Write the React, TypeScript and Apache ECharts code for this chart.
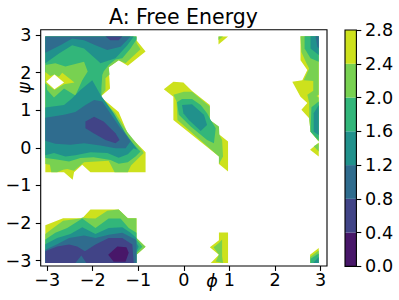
import React, { useEffect, useRef } from "react";
import * as echarts from "echarts";

type Pt = [number, number];

const levels = [0, 0.4, 0.8, 1.2, 1.6, 2.0, 2.4, 2.8];
const bandColors = ["#481769", "#414487", "#2f6c8e", "#21918c", "#32b67a", "#78d151", "#cde11d"];
const xTicks = [-3, -2, -1, 0, 1, 2, 3];
const yTicks = [-3, -2, -1, 0, 1, 2, 3];

// Contour regions of free energy below 2.8, in (phi, psi)
const below28: Pt[][] = [
  [[-3.04,2.96],[-1.04,2.96],[-1.04,2.86],[-.84,2.56],[-1.23,2.18],[-1.43,2.33],[-1.65,2.14],[-1.62,1.58],[-1.83,1.36],[-1.43,.95],[-1.22,.35],[-.84,-.12],[-.84,-.65],[-2.05,-.65],[-2.23,-.45],[-2.41,-.65],[-2.44,-.85],[-2.63,-.65],[-3.04,-.65]],
  [[-3.04,-2.06],[-2.65,-1.87],[-2.23,-1.87],[-2.05,-1.64],[-1.43,-1.64],[-1.23,-1.87],[-1.04,-1.87],[-1.04,-2.40],[-.84,-2.63],[-1.04,-2.84],[-1.04,-3.06],[-3.04,-3.06]],
  [[.76,2.96],[.97,2.96],[.76,2.75]],
  [[-.44,1.56],[-.23,1.76],[-.01,1.74],[.18,1.51],[.57,1.14],[.57,.74],[.75,.57],[.77,.36],[.97,.17],[.97,-.63],[.77,-.43],[.77,-.23],[-.23,.74],[-.23,1.36]],
  [[.77,-2.25],[.97,-2.25],[.97,-3.06],[.59,-3.06],[.77,-2.84],[.57,-2.64],[.77,-2.46]],
  [[2.77,-2.84],[2.96,-2.66],[2.96,-3.06],[2.77,-3.06]],
  [[2.56,2.97],[2.96,2.97],[2.96,.17],[2.78,.43],[2.75,.79],[2.58,1.01],[2.71,1.19],[2.56,1.36],[2.38,1.76],[2.6,1.8],[2.71,2.07],[2.56,2.33]],
  [[2.77,-.05],[2.96,.14],[2.96,-.23]],
];
const below24: Pt[][] = [
  [[-3.04,2.96],[-1.04,2.96],[-1.04,2.79],[-.95,2.62],[-1.28,2.25],[-1.43,2.33],[-1.65,2.14],[-1.63,1.95],[-1.72,1.85],[-1.72,1.54],[-1.83,1.36],[-1.50,.92],[-1.24,.42],[-.91,-.08],[-.88,-.14],[-1.16,-.47],[-1.23,-.65],[-1.52,-.65],[-1.65,-.34],[-2.19,-.38],[-2.41,-.61],[-2.56,-.56],[-2.65,-.58],[-2.78,-.65],[-2.91,-.65],[-2.94,-.45],[-3.04,-.43]],
  [[-3.04,-2.29],[-2.89,-2.15],[-2.65,-1.94],[-2.27,-1.88],[-2.23,-1.85],[-2.12,-1.87],[-1.94,-1.88],[-1.68,-1.67],[-1.43,-1.64],[-1.23,-1.87],[-1.04,-1.87],[-1.04,-2.40],[-.84,-2.63],[-1.04,-2.84],[-1.04,-3.06],[-3.04,-3.06]],
  [[.76,2.96],[.86,2.96],[.76,2.87]],
  [[-.23,1.41],[0,1.49],[.18,1.49],[.57,1.10],[.57,.74],[.77,.57],[.78,.35],[.84,.21],[.86,-.23],[.77,-.43],[.77,-.23],[-.14,.74],[-.16,1.23]],
  [[.77,-2.53],[.84,-2.44],[.84,-2.88],[.86,-3.06],[.70,-3.02],[.77,-2.84],[.65,-2.64]],
  [[2.77,-2.90],[2.96,-2.73],[2.96,-3.06],[2.77,-3.06]],
  [[2.56,2.97],[2.96,2.97],[2.96,1.41],[2.91,1.38],[2.96,1.34],[2.96,.17],[2.78,.43],[2.75,.79],[2.75,1.20],[2.71,1.41],[2.84,1.52],[2.84,1.78],[2.63,1.80],[2.75,2.11],[2.69,2.25],[2.58,2.55]],
  [[2.85,.04],[2.96,.12],[2.96,-.10]],
];
const below20: Pt[][] = [
  [[-3.04,2.96],[-1.04,2.96],[-1.04,2.88],[-1.17,2.64],[-1.35,2.38],[-1.5,2.35],[-1.65,2.20],[-1.76,2.03],[-1.79,1.94],[-1.81,1.58],[-1.81,1.34],[-1.55,.88],[-1.32,.39],[-.99,-.05],[-.95,-.10],[-1.06,-.23],[-1.23,-.38],[-1.43,-.42],[-1.61,-.32],[-1.98,-.25],[-2.27,-.27],[-2.52,-.36],[-2.82,-.30],[-3.04,-.27]],
  [[-3.04,-2.44],[-2.82,-2.26],[-2.56,-2.13],[-2.23,-1.88],[-1.94,-2.13],[-1.65,-1.88],[-1.39,-1.88],[-1.21,-2.13],[-1.04,-2.26],[-1.04,-2.44],[-.91,-2.63],[-1.04,-2.79],[-1.04,-3.06],[-3.04,-3.06]],
  [[-.15,1.21],[-.04,1.30],[.18,1.30],[.37,1.14],[.51,.92],[.59,.74],[.70,.52],[.66,.12],[.51,.21],[.15,.57],[-.11,.88]],
  [[2.78,-2.95],[2.96,-2.81],[2.96,-3.06],[2.78,-3.06]],
  [[2.65,2.97],[2.65,2.64],[2.78,2.38],[2.96,2.29],[2.96,2.97]],
  [[2.96,1.23],[2.80,1.08],[2.78,.43],[2.96,.20]],
];
// The raised area around (-2.8, 1.8): above 2.0, above 2.4, and no data
const above20: Pt[][] = [
  [[-3.04,2.2],[-2.82,2.25],[-2.6,2.16],[-2.19,2.29],[-2.11,2.03],[-2.23,1.8],[-2.38,1.39],[-2.63,1.58],[-2.85,1.34],[-3.0,1.54],[-3.04,1.85]],
];
const above24: Pt[][] = [
  [[-3.04,2.02],[-2.93,1.91],[-2.84,1.95],[-2.74,1.89],[-2.67,2.0],[-2.4,1.74],[-2.63,1.69],[-2.84,1.54],[-3.0,1.69],[-3.04,1.72]],
];
const noData: Pt[][] = [
  [[-3.02,1.76],[-2.84,1.95],[-2.63,1.74],[-2.84,1.56]],
];
const below16: Pt[][] = [
  [[-3.04,2.96],[-1.1,2.96],[-1.24,2.73],[-1.5,2.38],[-1.83,2.25],[-1.9,2.33],[-2.19,2.64],[-2.45,2.73],[-2.74,2.51],[-3.04,2.25]],
  [[-3.04,1.07],[-2.63,1.14],[-2.45,1.32],[-2.27,1.54],[-2.01,1.8],[-1.83,1.41],[-1.54,.92],[-1.28,.39],[-1.02,-.05],[-1.1,-.01],[-1.23,-.17],[-1.43,-.26],[-1.68,-.14],[-2.05,-.12],[-2.38,-.20],[-2.6,-.23],[-2.85,-.14],[-3.04,-.20]],
  [[-3.04,-2.56],[-2.78,-2.40],[-2.49,-2.29],[-2.23,-2.11],[-1.94,-2.29],[-1.65,-2.13],[-1.35,-2.11],[-1.17,-2.26],[-1.04,-2.40],[-1.04,-2.53],[-.99,-2.63],[-1.04,-2.75],[-1.04,-3.06],[-3.04,-3.06]],
  [[-.04,1.14],[.18,1.16],[.44,.88],[.51,.61],[.37,.45],[.11,.74],[-.01,.92]],
  [[2.84,-3.06],[2.96,-2.90],[2.96,-3.06]],
  [[2.78,2.97],[2.78,2.64],[2.96,2.47],[2.96,2.97]],
  [[2.96,1.14],[2.85,.92],[2.85,.43],[2.96,.34]],
];
const below12: Pt[][] = [
  [[-3.04,2.96],[-1.17,2.96],[-1.21,2.91],[-1.39,2.69],[-1.68,2.60],[-1.94,2.73],[-2.19,2.86],[-2.45,2.91],[-2.71,2.73],[-3.04,2.53]],
  [[-3.04,.8],[-2.63,.88],[-2.38,.95],[-2.16,1.14],[-1.97,1.27],[-1.79,1.23],[-1.54,.79],[-1.39,.52],[-1.32,.43],[-1.17,.17],[-1.28,-.01],[-1.5,-.01],[-1.83,.06],[-2.19,.12],[-2.49,.08],[-2.82,.11],[-3.04,.19]],
  [[-3.04,-2.71],[-2.78,-2.56],[-2.52,-2.40],[-2.19,-2.33],[-1.94,-2.40],[-1.65,-2.31],[-1.35,-2.26],[-1.06,-2.44],[-1.04,-2.49],[-1.04,-3.06],[-3.04,-3.06]],
  [[2.89,2.97],[2.93,2.69],[2.96,2.64],[2.96,2.97]],
];
const below08: Pt[][] = [
  [[-1.72,2.96],[-1.35,2.96],[-1.43,2.86],[-1.61,2.86]],
  [[-2.16,.7],[-1.97,.83],[-1.76,.7],[-1.5,.39],[-1.41,.21],[-1.5,.12],[-1.72,.21],[-1.98,.39],[-2.16,.52]],
  [[-3.04,-2.75],[-2.78,-2.62],[-2.52,-2.57],[-2.34,-2.62],[-2.17,-2.75],[-1.94,-2.57],[-1.65,-2.40],[-1.35,-2.40],[-1.13,-2.57],[-1.1,-3.06],[-2.14,-3.06],[-2.25,-2.86],[-2.38,-3.06],[-3.04,-3.06]],
];
const below04: Pt[][] = [
  [[-1.66,-2.84],[-1.46,-2.62],[-1.26,-2.64],[-1.21,-2.79],[-1.28,-3.03],[-1.54,-3.03]],
];

const FONT = "DejaVu Sans";
const paintOrder: { polys: Pt[][]; color: string }[] = [
  { polys: below28, color: bandColors[6] },
  { polys: below24, color: bandColors[5] },
  { polys: below20, color: bandColors[4] },
  { polys: above20, color: bandColors[5] },
  { polys: above24, color: bandColors[6] },
  { polys: noData, color: "#ffffff" },
  { polys: below16, color: bandColors[3] },
  { polys: below12, color: bandColors[2] },
  { polys: below08, color: bandColors[1] },
  { polys: below04, color: bandColors[0] },
];
const polygons = paintOrder.flatMap((l) => l.polys.map((p) => ({ p, color: l.color })));
const minus = (v: number) => String(v).replace("-", "\u2212");

export default function App() {
  const ref = useRef<HTMLDivElement>(null);
  useEffect(() => {
    document.body.style.margin = "0";
    const chart = echarts.init(ref.current!, null, { renderer: "svg" });
    const hiddenLine = { show: false, onZero: false };
    const tick = { show: true, length: 4.9, lineStyle: { color: "#000", width: 1.1 } };
    const label = { fontFamily: FONT, fontSize: 17.6, color: "#000" };
    chart.setOption({
      animation: false,
      backgroundColor: "#ffffff",
      title: {
        text: "A: Free Energy",
        left: 178.4,
        top: 1,
        textAlign: "center",
        textStyle: { fontFamily: FONT, fontSize: 20.5, fontWeight: "normal", color: "#000" },
      },
      grid: [
        { left: 40.7, top: 29.7, width: 286.3, height: 236.3, show: true, borderColor: "#000", borderWidth: 1.1, backgroundColor: "transparent" },
        { left: 345, top: 30, width: 11.4, height: 236.4, show: true, borderColor: "#000", borderWidth: 1.1, backgroundColor: "transparent", z: 5 },
      ],
      xAxis: [
        {
          type: "value", gridIndex: 0, min: -Math.PI, max: Math.PI,
          axisLine: hiddenLine, splitLine: { show: false },
          axisTick: { ...tick, customValues: xTicks },
          axisLabel: { ...label, customValues: xTicks, margin: 4.5, formatter: (v: number) => minus(v) },
        },
        { type: "category", gridIndex: 1, data: ["band"], show: false },
      ],
      yAxis: [
        {
          type: "value", gridIndex: 0, min: -Math.PI, max: Math.PI,
          axisLine: hiddenLine, splitLine: { show: false },
          axisTick: { ...tick, customValues: yTicks },
          axisLabel: { ...label, customValues: yTicks, margin: 9.2, formatter: (v: number) => minus(v) },
        },
        {
          type: "value", gridIndex: 1, position: "right", min: 0, max: 2.8, interval: 0.4,
          axisLine: hiddenLine, splitLine: { show: false },
          axisTick: tick,
          axisLabel: { ...label, margin: 8.7, formatter: (v: number) => v.toFixed(1) },
        },
      ],
      graphic: [
        { type: "text", x: 212, y: 281, style: { text: "\u03d5", font: `italic 17.6px '${FONT}'`, fill: "#000", align: "center", verticalAlign: "middle" } },
        { type: "text", x: 24, y: 88, rotation: Math.PI / 2, style: { text: "\u03c8", font: `italic 17.6px '${FONT}'`, fill: "#000", align: "center", verticalAlign: "middle" } },
      ],
      series: [
        {
          type: "custom",
          coordinateSystem: "cartesian2d",
          xAxisIndex: 0, yAxisIndex: 0,
          clip: true,
          silent: true,
          encode: { x: 0, y: 1 },
          data: polygons.map((g) => [g.p[0][0], g.p[0][1]]),
          renderItem: (params: any, api: any) => {
            const g = polygons[params.dataIndex];
            return {
              type: "polygon",
              shape: { points: g.p.map((pt) => api.coord(pt)) },
              style: { fill: g.color, stroke: "none" },
            };
          },
        },
        ...bandColors.map((color, i) => ({
          type: "bar",
          xAxisIndex: 1, yAxisIndex: 1,
          stack: "colorbar",
          barWidth: "100%",
          silent: true,
          itemStyle: { color },
          data: [+(levels[i + 1] - levels[i]).toFixed(1)],
        })),
      ],
    });
    return () => chart.dispose();
  }, []);
  return <div ref={ref} style={{ width: 399, height: 300 }} />;
}
